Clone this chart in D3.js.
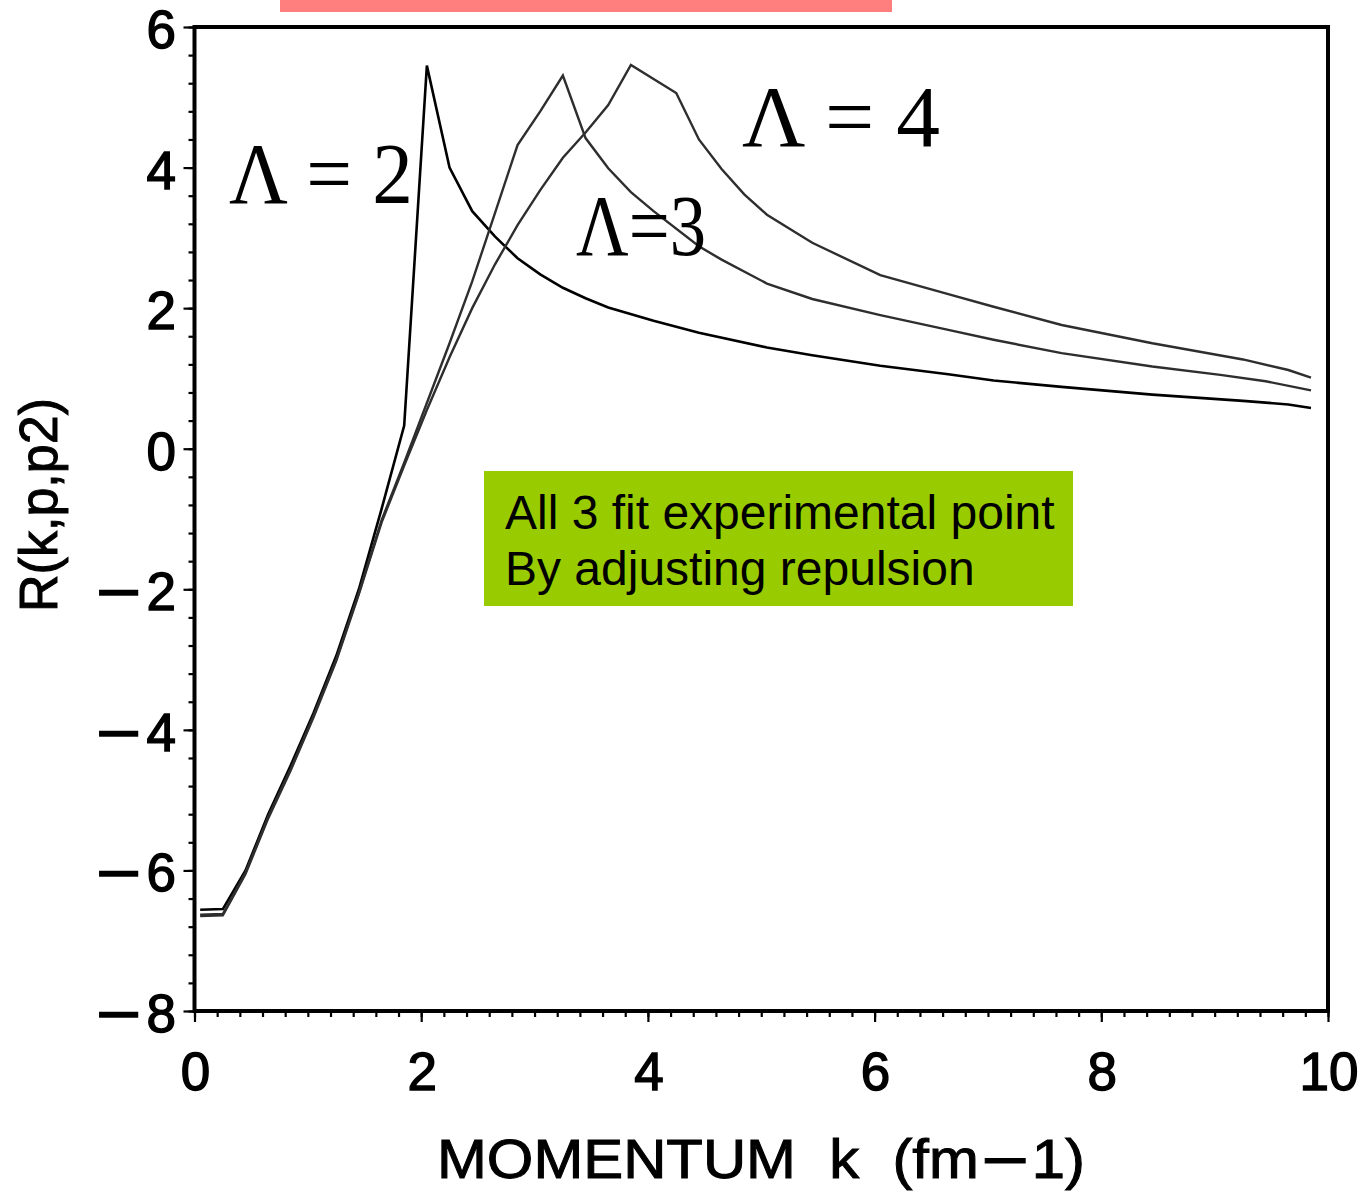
<!DOCTYPE html>
<html>
<head>
<meta charset="utf-8">
<script src="https://cdn.jsdelivr.net/npm/d3@7"></script>
<style>
  html, body { margin: 0; padding: 0; background: #fff; }
  svg { display: block; }
  .tick-label { font-family: "Liberation Sans", Arial, sans-serif; font-size: 53px; fill: #000; stroke: #000; stroke-width: 1.4px; }
  .axis-title { font-family: "Liberation Sans", Arial, sans-serif; fill: #000; stroke: #000; stroke-width: 1px; }
  .lam { font-family: "Liberation Serif", "Times New Roman", serif; fill: #000; }
  .note { font-family: "Liberation Sans", Arial, sans-serif; font-size: 48px; fill: #000; }
</style>
</head>
<body>
<svg id="chart" width="1364" height="1192"></svg>
<script>
// Momentum grid and R(k,p,p2) values for each cutoff Λ
const kLam2 = [0.05,0.25,0.45,0.65,0.85,1.05,1.25,1.45,1.65,1.85,2.05,2.25,2.45,2.65,2.85,3.05,3.25,3.45,3.65,4.05,4.45,5.05,5.45,6.05,6.65,7.05,7.65,8.45,9.25,9.65,9.85];
const rLam2 = [-6.56,-6.55,-6.00,-5.20,-4.50,-3.76,-2.95,-2.00,-0.86,0.33,5.45,4.00,3.38,3.02,2.71,2.48,2.29,2.14,2.01,1.82,1.65,1.44,1.33,1.18,1.06,0.97,0.88,0.77,0.68,0.63,0.58];

const kLam3 = [0.05,0.25,0.45,0.65,0.85,1.05,1.25,1.45,1.65,1.85,2.05,2.25,2.45,2.65,2.85,3.05,3.25,3.45,3.65,3.85,4.05,4.45,4.65,5.05,5.45,6.05,6.65,7.05,7.65,8.45,9.05,9.45,9.85];
const rLam3 = [-6.63,-6.62,-6.03,-5.24,-4.55,-3.80,-3.00,-2.05,-1.02,-0.20,0.65,1.50,2.38,3.35,4.32,4.80,5.31,4.42,3.99,3.65,3.38,2.88,2.69,2.35,2.13,1.90,1.69,1.55,1.36,1.17,1.05,0.96,0.83];

const kLam4 = [0.05,0.25,0.45,0.65,0.85,1.05,1.25,1.45,1.65,1.85,2.05,2.25,2.45,2.65,2.85,3.05,3.25,3.45,3.65,3.85,4.25,4.45,4.65,4.85,5.05,5.45,6.05,6.65,7.05,7.65,8.45,9.25,9.65,9.85];
const rLam4 = [-6.65,-6.64,-6.05,-5.26,-4.57,-3.82,-3.02,-2.07,-1.05,-0.24,0.55,1.30,2.00,2.62,3.18,3.68,4.14,4.50,4.89,5.46,5.06,4.40,3.98,3.62,3.33,2.93,2.47,2.20,2.02,1.76,1.50,1.27,1.12,1.01];

const xMajorTicks = [0,2,4,6,8,10];
const yMajorTicks = [6,4,2,0,-2,-4,-6,-8];
const seriesLabels = ["Λ = 2", "Λ=3", "Λ = 4"];
const xTitleParts = ["MOMENTUM  k  (fm", "\u2013", "1)"];
const yTitle = "R(k,p,p2)";
const noteLines = ["All 3 fit experimental point", "By adjusting repulsion"];

const svg = d3.select("#chart");

const x = d3.scaleLinear().domain([0, 10]).range([194.5, 1328]);
const y = d3.scaleLinear().domain([-8, 6]).range([1011, 27]);

// banner strip along the top edge
svg.append("rect").attr("x", 280).attr("y", 0).attr("width", 612).attr("height", 12).attr("fill", "#ff7f7f");

// minor ticks
const xMinor = d3.range(0, 10.0001, 0.2).map(v => +v.toFixed(2));
const yMinor = d3.range(-8, 6.0001, 0.4).map(v => +v.toFixed(2));

function tickLayer(axis, translate) {
  svg.append("g")
    .attr("transform", translate)
    .call(axis)
    .call(g => g.select(".domain").remove())
    .call(g => g.selectAll("line").attr("stroke", "#000").attr("stroke-width", 2.2));
}

tickLayer(d3.axisBottom(x).tickValues(xMinor).tickSize(6).tickSizeOuter(0).tickFormat(""), `translate(0,${y(-8)})`);
tickLayer(d3.axisBottom(x).tickValues(xMajorTicks).tickSize(11).tickSizeOuter(0).tickFormat(""), `translate(0,${y(-8)})`);
tickLayer(d3.axisLeft(y).tickValues(yMinor).tickSize(6).tickSizeOuter(0).tickFormat(""), `translate(${x(0)},0)`);
tickLayer(d3.axisLeft(y).tickValues(yMajorTicks).tickSize(11).tickSizeOuter(0).tickFormat(""), `translate(${x(0)},0)`);

// tick labels
svg.append("g").selectAll("text").data(xMajorTicks).join("text")
  .attr("class", "tick-label")
  .attr("x", d => x(d) + 1)
  .attr("y", 1090)
  .attr("text-anchor", "middle")
  .text(d => d);

const yLab = svg.append("g").selectAll("text").data(yMajorTicks).join("text")
  .attr("class", "tick-label")
  .attr("x", 176)
  .attr("y", d => y(d) + 21)
  .attr("text-anchor", "end");
yLab.each(function(d) {
  const t = d3.select(this);
  if (d < 0) {
    // long dash used as the minus sign
    t.append("tspan").attr("font-size", 68).text("\u2013");
    t.append("tspan").attr("dx", 9).text(Math.abs(d));
  } else {
    t.text(d);
  }
});

// frame
svg.append("rect")
  .attr("x", x(0)).attr("y", y(6))
  .attr("width", x(10) - x(0)).attr("height", y(-8) - y(6))
  .attr("fill", "none").attr("stroke", "#000").attr("stroke-width", 4);

// curves
const line = d3.line().x(d => x(d[0])).y(d => y(d[1]));
const series = [
  { k: kLam2, r: rLam2, color: "#000", w: 2.6 },
  { k: kLam3, r: rLam3, color: "#2e2e2e", w: 2.4 },
  { k: kLam4, r: rLam4, color: "#2e2e2e", w: 2.4 }
];
svg.append("g").selectAll("path").data(series).join("path")
  .attr("d", s => line(s.k.map((k, i) => [k, s.r[i]])))
  .attr("fill", "none")
  .attr("stroke", s => s.color)
  .attr("stroke-width", s => s.w)
  .attr("stroke-linejoin", "miter");

// cutoff labels
svg.append("text").attr("class", "lam").attr("x", 229).attr("y", 203)
  .attr("font-size", 86).attr("textLength", 184).attr("lengthAdjust", "spacingAndGlyphs")
  .text(seriesLabels[0]);
svg.append("text").attr("class", "lam").attr("x", 576).attr("y", 255)
  .attr("font-size", 86).attr("textLength", 130).attr("lengthAdjust", "spacingAndGlyphs")
  .text(seriesLabels[1]);
svg.append("text").attr("class", "lam").attr("x", 742).attr("y", 146)
  .attr("font-size", 86).attr("textLength", 198).attr("lengthAdjust", "spacingAndGlyphs")
  .text(seriesLabels[2]);

// note box
svg.append("rect").attr("x", 484).attr("y", 471).attr("width", 589).attr("height", 135).attr("fill", "#99cc00");
svg.append("g").selectAll("text").data(noteLines).join("text")
  .attr("class", "note")
  .attr("x", 505)
  .attr("y", (d, i) => 529 + i * 56)
  .text(d => d);

// axis titles
const xt = svg.append("text").attr("class", "axis-title")
  .attr("x", 437).attr("y", 1178)
  .attr("font-size", 55)
  .attr("textLength", 648).attr("lengthAdjust", "spacingAndGlyphs")
  .style("white-space", "pre");
xt.append("tspan").text(xTitleParts[0]);
xt.append("tspan").attr("font-size", 66).attr("dx", 6).text(xTitleParts[1]);
xt.append("tspan").attr("dx", 6).text(xTitleParts[2]);

svg.append("text").attr("class", "axis-title")
  .attr("transform", "translate(57,505) rotate(-90)")
  .attr("text-anchor", "middle")
  .attr("font-size", 53)
  .attr("textLength", 214).attr("lengthAdjust", "spacingAndGlyphs")
  .text(yTitle);
</script>
</body>
</html>
